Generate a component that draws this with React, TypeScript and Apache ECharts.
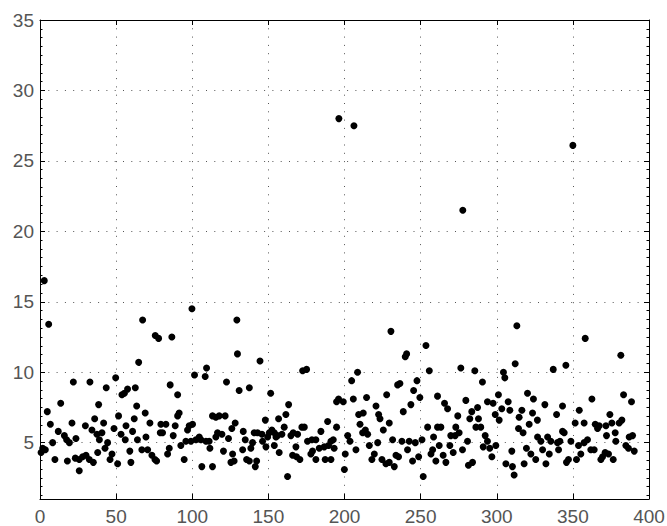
import React, { useEffect, useRef } from 'react';
import * as echarts from 'echarts';

// Points, grouped by x range: [index, value]
const points0to65: [number, number][] = [
  [0.7, 4.3], [1.8, 4.6], [2.8, 16.5], [3.5, 4.5], [4.8, 7.2], [5.7, 13.4], [6.8, 6.3], [8.3, 5.0],
  [9.8, 3.8], [12, 5.8], [13.6, 7.8], [16, 5.5], [17.5, 5.2], [18, 3.7], [19.3, 5.0], [21, 6.4],
  [21.9, 9.3], [23.2, 3.9], [23.6, 5.3], [25.8, 3.8], [25.8, 3.0], [28, 4.0], [29.8, 6.2], [30.2, 4.1],
  [32.4, 3.8], [32.8, 9.3], [34.1, 5.9], [35, 3.6], [35.9, 6.7], [37.4, 5.6], [37.9, 4.3], [38.5, 7.7],
  [39, 5.2], [40.7, 5.7], [41.8, 6.4], [42.7, 4.6], [43.5, 8.9], [44.4, 5.0], [46, 3.8], [47.3, 4.2],
  [48.6, 6.0], [49.7, 9.6], [51, 3.5], [51.6, 6.9], [53.2, 5.6], [53.8, 8.4], [55.4, 8.5], [56, 5.2],
  [56.5, 6.2], [57.5, 8.8], [59, 4.4], [59.7, 3.6], [60.8, 5.8], [61.9, 6.7], [62.6, 8.9], [63.5, 7.6],
  [64, 5.2], [64.8, 10.7],
];

const points65to131: [number, number][] = [
  [66.9, 4.5], [67.4, 13.7], [69.1, 7.1], [69.6, 5.4], [70.7, 4.5], [72.2, 6.4], [73.5, 4.1], [75.5, 3.8],
  [75.7, 12.6], [76.6, 3.7], [77.9, 12.4], [79, 5.7], [79.4, 6.3], [80.5, 5.7], [82.7, 6.3], [83.8, 4.2],
  [84.9, 4.6], [85.5, 9.1], [86.6, 12.5], [87.5, 5.5], [88.8, 6.2], [90.4, 8.4], [90.4, 6.9], [91.4, 7.1],
  [92.5, 4.8], [94.7, 3.8], [95.8, 5.1], [96.9, 5.9], [98, 6.2], [99.1, 5.1], [99.8, 14.5], [100.2, 6.3],
  [101.5, 9.8], [102.4, 5.2], [104.6, 5.4], [105.7, 5.2], [106.3, 3.3], [108.5, 9.7], [109, 5.1], [109.4, 10.3],
  [111.1, 5.1], [111.6, 4.6], [113.3, 6.9], [113.3, 3.3], [115.5, 6.8], [115.5, 5.4], [116.6, 5.7], [117.7, 6.9],
  [119.5, 5.6], [120.5, 4.4], [121.6, 6.9], [122.5, 9.3], [123.8, 5.3], [125.4, 3.6], [126, 6.0], [126.5, 4.2],
  [127.5, 3.7], [128.2, 6.4], [129.3, 13.7], [129.7, 11.3], [130.8, 8.7],
];

const points131to196: [number, number][] = [
  [133.1, 4.5], [133.5, 5.8], [134.8, 5.2], [135.7, 3.8], [137.5, 8.9], [137.5, 3.7], [138.5, 4.6], [139.6, 5.0],
  [140.7, 5.7], [141.4, 3.3], [142.3, 3.7], [142.9, 5.7], [144.5, 10.8], [145.8, 5.6], [146.2, 5.1], [148, 6.6],
  [148.4, 4.7], [149.5, 5.4], [150.6, 5.7], [151.5, 8.5], [152.3, 5.9], [153.9, 5.7], [153.9, 4.8], [155, 5.4],
  [156, 5.5], [156.7, 6.7], [157.1, 4.3], [158.9, 5.6], [160.4, 6.1], [161.5, 7.0], [162.6, 2.6], [163.3, 7.7],
  [164.8, 5.5], [165.9, 4.1], [166.3, 5.7], [168.1, 4.7], [168.5, 4.0], [169.2, 5.6], [170.7, 3.8], [172, 6.1],
  [172.5, 10.1], [173.6, 6.1], [175.1, 10.2], [175.7, 5.1], [177.9, 4.2], [178.6, 5.2], [179, 4.4], [181.2, 5.2],
  [181.2, 3.8], [183.4, 4.6], [184.5, 5.8], [186.7, 4.7], [187.3, 3.8], [188.9, 6.5], [189.5, 4.8], [191.1, 5.1],
  [191.1, 3.8], [192.6, 5.2], [193.2, 4.6], [194.8, 7.9], [194.8, 6.1], [196.1, 8.1],
];

const points196to262: [number, number][] = [
  [196.3, 28.0], [199.2, 7.9], [199.9, 3.1], [200.5, 4.2], [202.1, 5.5], [203.6, 5.1], [204.7, 9.4], [205.8, 8.1],
  [206.2, 27.5], [207.5, 4.5], [208.6, 10.0], [209.3, 7.0], [210.2, 6.3], [211.9, 5.7], [212.3, 7.1], [213.7, 5.9],
  [214.5, 8.2], [215.2, 5.6], [216.3, 4.8], [218, 3.8], [219.6, 4.2], [220.7, 7.6], [221.8, 5.0], [222.4, 7.0],
  [223.3, 6.7], [224.6, 3.8], [225.5, 5.9], [227.2, 3.5], [227.7, 8.4], [229.4, 6.4], [229.4, 3.6], [230.5, 12.9],
  [231.6, 5.2], [232.7, 3.3], [233.8, 4.1], [234.9, 9.1], [235.5, 4.0], [236.4, 9.2], [237.7, 5.1], [238.6, 7.2],
  [239.9, 11.1], [240.8, 11.3], [241.4, 4.5], [242.5, 5.1], [243.6, 7.7], [244.7, 3.7], [245.4, 8.7], [246.5, 5.0],
  [247.6, 9.4], [248.7, 4.0], [249.5, 8.2], [250.9, 5.2], [251.7, 2.6], [253.5, 11.9], [254.6, 6.1], [255.7, 10.1],
  [256.8, 4.2], [257.9, 4.5], [258.5, 5.4], [260, 3.7], [261.1, 8.3], [261.1, 6.1],
];

const points262to327: [number, number][] = [
  [262.2, 4.8], [263.3, 6.1], [264.8, 4.1], [265.7, 7.8], [266.6, 3.6], [267.7, 7.4], [269.2, 4.8], [269.8, 5.5],
  [271.4, 4.3], [272.7, 5.5], [273.1, 6.1], [274.4, 6.9], [275.3, 5.7], [276.4, 10.3], [277.5, 4.5], [277.7, 21.5],
  [279.7, 8.0], [280.8, 5.1], [281.4, 3.4], [282.3, 6.7], [283.6, 7.2], [284.1, 3.6], [285.6, 10.1], [286.3, 6.1],
  [287.4, 7.5], [288, 6.7], [289.5, 6.1], [290.6, 9.3], [291.1, 4.7], [292.4, 5.5], [293.9, 7.9], [293.9, 5.1],
  [295.4, 4.6], [296.8, 4.0], [297.6, 7.8], [299, 7.0], [299.4, 4.8], [301.1, 8.4], [301.6, 6.6], [303.3, 7.4],
  [304.4, 10.0], [305.3, 9.6], [306, 3.5], [307.5, 7.9], [308.6, 7.3], [309.9, 4.4], [310.3, 3.3], [311.4, 2.7],
  [312.1, 10.6], [313.2, 13.3], [314.3, 6.0], [314.7, 6.8], [316.5, 7.3], [317.3, 5.7], [318, 3.5], [319.5, 4.6],
  [320.2, 8.5], [321.3, 6.3], [322.4, 4.2], [323.5, 7.1], [324.1, 8.1], [325.6, 3.8], [326.7, 6.6],
];

const points327to391: [number, number][] = [
  [326.8, 5.4], [329, 5.1], [330.1, 4.5], [331.6, 7.7], [332.3, 3.5], [333.4, 5.4], [334.5, 4.2], [335.5, 5.1],
  [337.1, 10.2], [339.3, 7.0], [339.9, 5.0], [340.6, 4.5], [341.5, 5.1], [343.2, 7.6], [343.2, 5.8], [344.3, 5.7],
  [345.4, 10.5], [345.8, 3.6], [347.1, 3.8], [348.7, 5.1], [350, 26.1], [351.5, 6.4], [352.4, 3.8], [353.7, 4.8],
  [354.2, 7.3], [355.2, 4.2], [357.4, 6.4], [357.4, 5.0], [358.1, 12.4], [359.6, 5.2], [361.8, 4.5], [362.5, 8.1],
  [364, 4.5], [364.7, 6.3], [366.2, 6.0], [367.3, 6.2], [368.4, 3.8], [369.5, 4.0], [371.2, 4.3], [371.7, 6.2],
  [372.1, 5.5], [373.4, 4.2], [374.3, 7.0], [375.6, 6.4], [376.5, 3.8], [377.8, 5.7], [378.2, 5.1], [380.4, 6.4],
  [381.5, 11.2], [382.2, 6.6], [383.3, 8.4], [384.8, 4.8], [386.5, 4.6], [387, 5.4], [388.5, 7.9], [389.2, 5.5],
  [390.3, 4.4],
];

const xMin = 0;
const xMax = 400;
const xInterval = 50;
const yMin = 1;
const yMax = 35;

export default function App() {
  const ref = useRef<HTMLDivElement>(null);

  useEffect(() => {
    if (!ref.current) return;
    const chart = echarts.init(ref.current, null, { renderer: 'svg' });
    const data = [
      ...points0to65,
      ...points65to131,
      ...points131to196,
      ...points196to262,
      ...points262to327,
      ...points327to391,
    ];
    const labelStyle = {
      fontFamily: 'Liberation Sans',
      fontSize: 19,
      color: '#555',
    };
    const axisLine = { show: true, onZero: false, lineStyle: { color: '#000', width: 1 } };
    const gridDots = { show: true, lineStyle: { color: '#555', width: 1, type: [1, 7.3] } };

    chart.setOption({
      animation: false,
      backgroundColor: '#fff',
      grid: { left: 40, right: 18, top: 20, bottom: 27, containLabel: false, outerBoundsMode: 'none' },
      xAxis: [
        {
          type: 'value',
          position: 'bottom',
          min: xMin,
          max: xMax,
          interval: xInterval,
          axisLine,
          axisTick: { show: true, inside: true, length: 5, lineStyle: { color: '#000' } },
          axisLabel: { ...labelStyle, margin: 8 },
          splitLine: gridDots,
        },
        {
          type: 'value',
          position: 'top',
          min: xMin,
          max: xMax,
          interval: xInterval,
          axisLine,
          axisTick: { show: true, inside: true, length: 5, lineStyle: { color: '#000' } },
          axisLabel: { show: false },
          splitLine: { show: false },
        },
      ],
      yAxis: [
        {
          type: 'value',
          position: 'left',
          min: yMin,
          max: yMax,
          splitNumber: 7,
          axisLine,
          axisTick: { show: true, inside: true, length: 5, lineStyle: { color: '#000' } },
          minorTick: { show: true, splitNumber: 8, length: 2.5, lineStyle: { color: '#000' } },
          axisLabel: { ...labelStyle, margin: 6, showMinLabel: false },
          splitLine: gridDots,
        },
        {
          type: 'value',
          position: 'right',
          min: yMin,
          max: yMax,
          splitNumber: 7,
          axisLine,
          axisTick: { show: true, inside: true, length: 5, lineStyle: { color: '#000' } },
          minorTick: { show: true, splitNumber: 8, length: 2.5, lineStyle: { color: '#000' } },
          axisLabel: { show: false },
          splitLine: { show: false },
        },
      ],
      series: [
        {
          type: 'scatter',
          xAxisIndex: 0,
          yAxisIndex: 0,
          data,
          symbol: 'circle',
          symbolSize: 7,
          itemStyle: { color: '#000', opacity: 1 },
          z: 5,
        },
      ],
    });

    return () => chart.dispose();
  }, []);

  return (
    <div
      ref={ref}
      style={{ position: 'fixed', left: 0, top: 0, width: 667, height: 526, background: '#fff' }}
    />
  );
}
